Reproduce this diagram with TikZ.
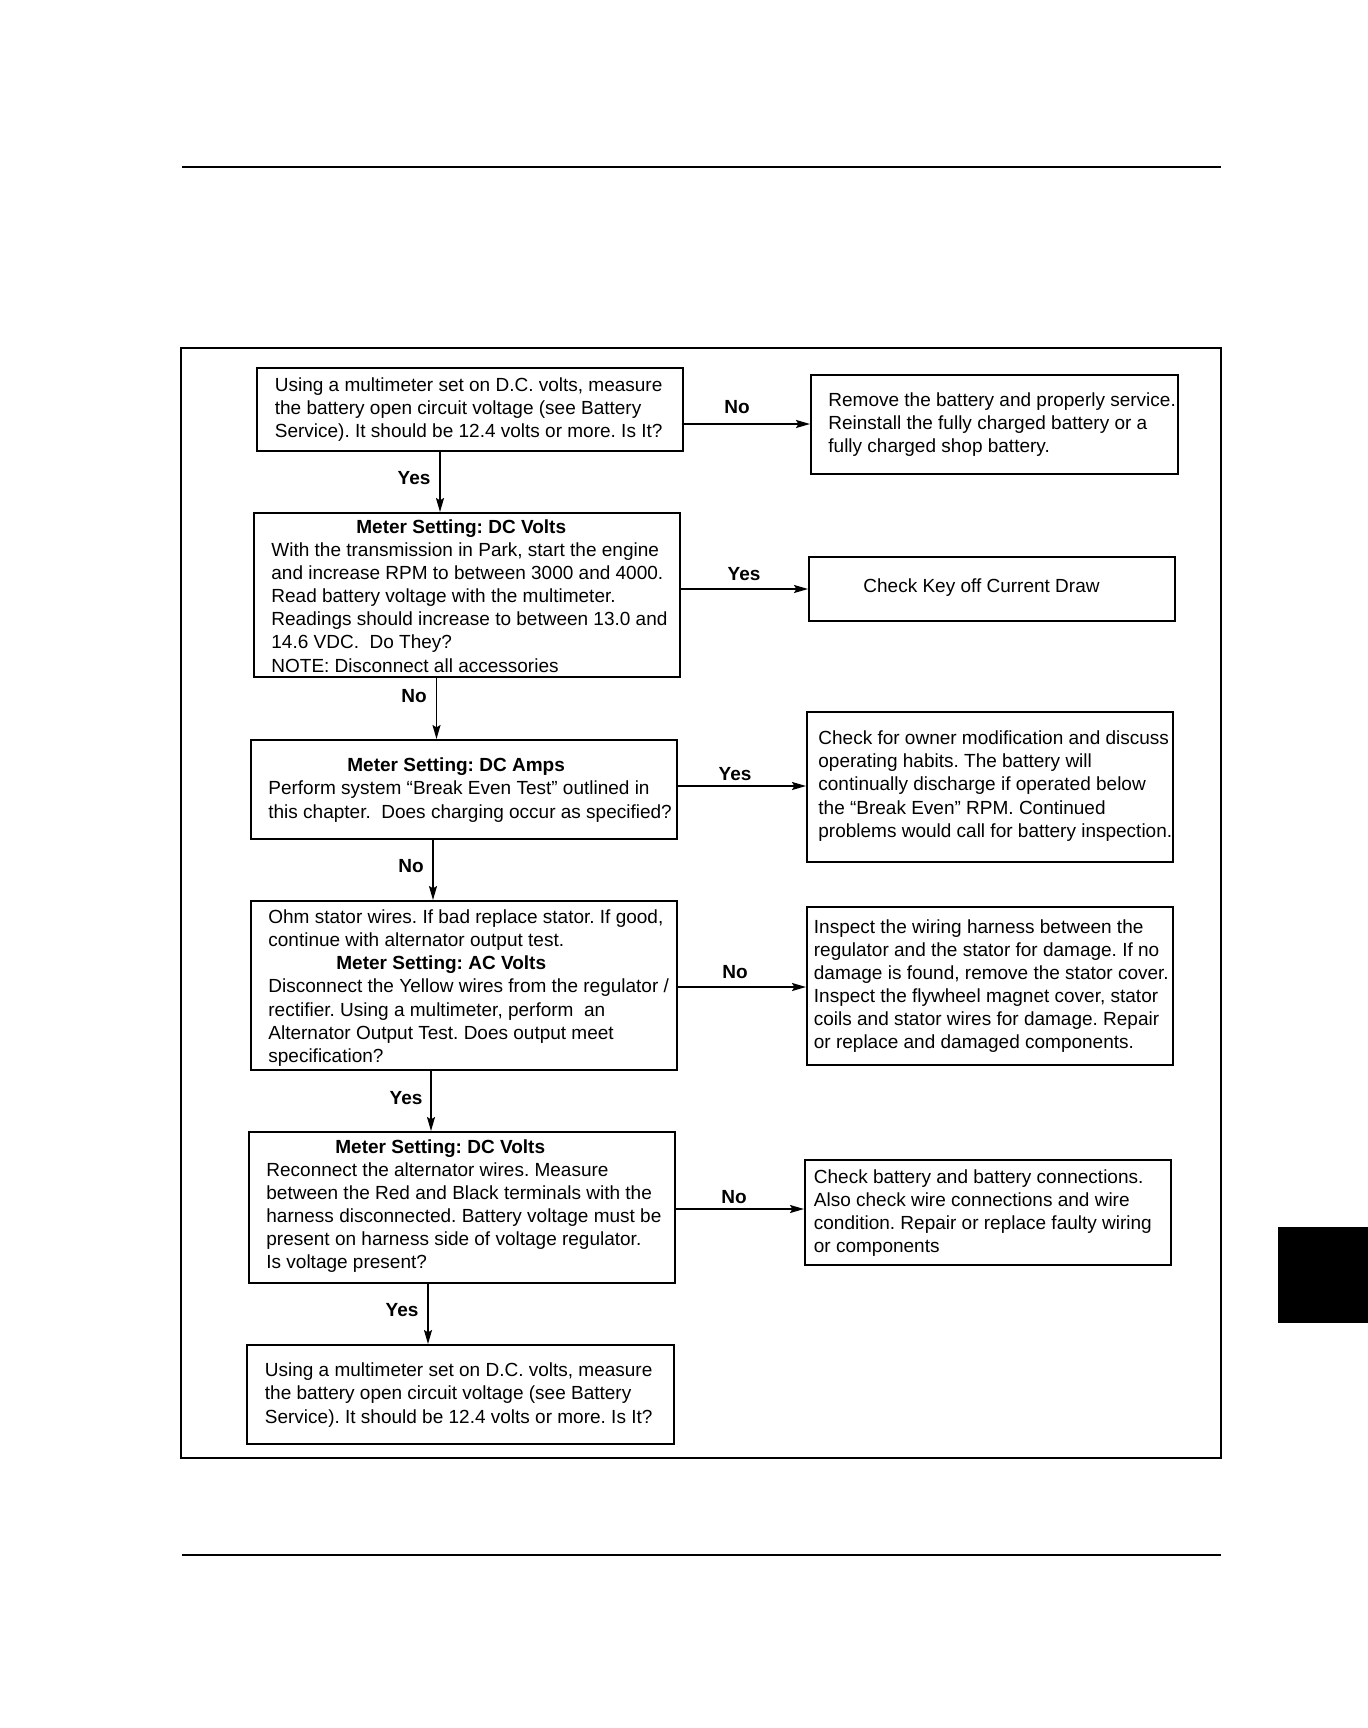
\documentclass[tikz,border=0pt]{standalone}
\usepackage{fontspec}
\setmainfont{Liberation Sans}
\usetikzlibrary{arrows.meta,fit}
\frenchspacing
\begin{document}
\begin{tikzpicture}[x=0.5pt,y=-0.5pt,
  box/.style={draw,line width=1pt,inner sep=0pt},
  txt/.style={anchor=west,inner sep=0pt,align=left,font=\fontsize{9.5}{11.55}\selectfont\frenchspacing},
  lbl/.style={inner sep=0pt,font=\fontsize{9.5}{11.55}\selectfont\bfseries},
  arr/.style={line width=0.8pt,-{Stealth[length=7pt,width=4pt,inset=1.2pt]}}]
\useasboundingbox (0,0) rectangle (1368,1728);
% page rules, frame, tab
\draw[line width=1pt] (182,166.7) -- (1221,166.7);
\draw[line width=1pt] (182,1555) -- (1221,1555);
\draw[line width=1pt] (181,347.5) rectangle (1221,1458);
\fill (1278,1227) rectangle (1368,1323);
% boxes
\node[box,fit={(257,368) (683,451)}] (b1) {};
\node[box,fit={(811,375) (1178,474)}] (r1) {};
\node[box,fit={(254,513) (680,677)}] (b2) {};
\node[box,fit={(809,557) (1175,621)}] (r2) {};
\node[box,fit={(251,740) (677,839)}] (b3) {};
\node[box,fit={(807,712) (1173,862)}] (r3) {};
\node[box,fit={(251,901) (677,1070)}] (b4) {};
\node[box,fit={(807,907) (1173,1065)}] (r4) {};
\node[box,fit={(249,1132) (675,1283)}] (b5) {};
\node[box,fit={(805,1160) (1171,1265)}] (r5) {};
\node[box,fit={(247,1345) (674,1444)}] (b6) {};
% texts
\node[txt] (t1) at (274.5,409.5) {Using a multimeter set on D.C. volts, measure\\the battery open circuit voltage (see Battery\\Service). It should be 12.4 volts or more. Is It?};
\node[txt] (tr1) at (828,424.5) {Remove the battery and properly service.\\Reinstall the fully charged battery or a\\fully charged shop battery.};
\node[txt] (t2) at (271,596) {\hspace*{42.5pt}\textbf{Meter Setting: DC Volts}\\With the transmission in Park, start the engine\\and increase RPM to between 3000 and 4000.\\Read battery voltage with the multimeter.\\Readings should increase to between 13.0 and\\14.6 VDC.\ \ Do They?\\NOTE: Disconnect all accessories};
\node[txt] (tr2) at (863,588) {Check Key off Current Draw};
\node[txt] (t3) at (268,790) {\hspace*{39.5pt}\textbf{Meter Setting: DC Amps}\\Perform system “Break Even Test” outlined in\\this chapter.\ \ Does charging occur as specified?};
\node[txt] (tr3) at (818,786) {Check for owner modification and discuss\\operating habits. The battery will\\continually discharge if operated below\\the “Break Even” RPM. Continued\\problems would call for battery inspection.};
\node[txt] (t4) at (268,988) {Ohm stator wires. If bad replace stator. If good,\\continue with alternator output test.\\\hspace*{34pt}\textbf{Meter Setting: AC Volts}\\Disconnect the Yellow wires from the regulator /\\rectifier. Using a multimeter, perform\ \ an\\Alternator Output Test. Does output meet\\specification?};
\node[txt] (tr4) at (813.5,986) {Inspect the wiring harness between the\\regulator and the stator for damage. If no\\damage is found, remove the stator cover.\\Inspect the flywheel magnet cover, stator\\coils and stator wires for damage. Repair\\or replace and damaged components.};
\node[txt] (t5) at (266,1206) {\hspace*{34.5pt}\textbf{Meter Setting: DC Volts}\\Reconnect the alternator wires. Measure\\between the Red and Black terminals with the\\harness disconnected. Battery voltage must be\\present on harness side of voltage regulator.\\Is voltage present?};
\node[txt] (tr5) at (813.5,1213) {Check battery and battery connections.\\Also check wire connections and wire\\condition. Repair or replace faulty wiring\\or components};
\node[txt] (t6) at (264.5,1395) {Using a multimeter set on D.C. volts, measure\\the battery open circuit voltage (see Battery\\Service). It should be 12.4 volts or more. Is It?};
% connector guides
\coordinate (v1) at (440,0);
\coordinate (v2) at (436.5,0);
\coordinate (v3) at (433,0);
\coordinate (v4) at (431,0);
\coordinate (v5) at (428,0);
\coordinate (h1) at (0,424);
\coordinate (h2) at (0,589);
\coordinate (h3) at (0,786);
\coordinate (h4) at (0,987);
\coordinate (h5) at (0,1209);
% connectors
\draw[arr] (b1.south -| v1) -- (b2.north -| v1);
\draw[arr] (b2.south -| v2) -- (b3.north -| v2);
\draw[arr] (b3.south -| v3) -- (b4.north -| v3);
\draw[arr] (b4.south -| v4) -- (b5.north -| v4);
\draw[arr] (b5.south -| v5) -- (b6.north -| v5);
\draw[arr] (b1.east |- h1) -- (r1.west |- h1);
\draw[arr] (b2.east |- h2) -- (r2.west |- h2);
\draw[arr] (b3.east |- h3) -- (r3.west |- h3);
\draw[arr] (b4.east |- h4) -- (r4.west |- h4);
\draw[arr] (b5.east |- h5) -- (r5.west |- h5);
% labels
\node[lbl] (l1) at (737,407) {No};
\node[lbl] (l2) at (414,478) {Yes};
\node[lbl] (l3) at (744,574) {Yes};
\node[lbl] (l4) at (414,696) {No};
\node[lbl] (l5) at (735,774) {Yes};
\node[lbl] (l6) at (411,866) {No};
\node[lbl] (l7) at (735,972) {No};
\node[lbl] (l8) at (406,1098) {Yes};
\node[lbl] (l9) at (734,1197) {No};
\node[lbl] (l10) at (402,1310) {Yes};
\end{tikzpicture}
\end{document}
